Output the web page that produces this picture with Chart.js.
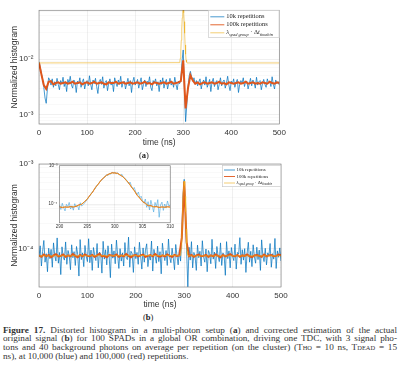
<!DOCTYPE html>
<html>
<head>
<meta charset="utf-8">
<script src="https://cdn.jsdelivr.net/npm/chart.js@4.4.1/dist/chart.umd.min.js"></script>
<style>
  html, body { margin: 0; padding: 0; background: #fff; }
  body { width: 400px; height: 378px; position: relative; overflow: hidden; }
  canvas { position: absolute; }
  #cA { left: 0; top: 0; }
  #cB { left: 0; top: 150px; }
  #cI { left: 40px; top: 160px; }
  .panel { position: absolute; font-family: "Liberation Serif", serif; font-size: 8.5px; color: #222; z-index: 5; }
  #cap { position: absolute; left: 3px; top: 325.5px; width: 394px; font-family: "Liberation Serif", serif;
         font-size: 9.2px; color: #333; z-index: 5; }
  #cap .ln { height: 8.7px; line-height: 8.7px; }
  #cap .j { text-align: justify; text-align-last: justify; }
  #cap .sc { font-size: 70%; }
</style>
</head>
<body>
<canvas id="cA" width="290" height="150"></canvas>
<canvas id="cB" width="292" height="160"></canvas>
<canvas id="cI" width="135" height="72"></canvas>
<div class="panel" style="left:139px;top:150px;">(<b>a</b>)</div>
<div class="panel" style="left:143px;top:312px;">(<b>b</b>)</div>
<div id="cap">
  <div class="ln j"><b>Figure 17.</b> Distorted histogram in a multi-photon setup (<b>a</b>) and corrected estimation of the actual</div>
  <div class="ln j">original signal (<b>b</b>) for 100 SPADs in a global OR combination, driving one TDC, with 3 signal pho-</div>
  <div class="ln j">tons and 40 background photons on average per repetition (on the cluster) (T<span class="sc">HO</span> = 10 ns, T<span class="sc">DEAD</span> = 15</div>
  <div class="ln">ns), at 10,000 (blue) and 100,000 (red) repetitions.</div>
</div>
<script>
// ---- data ----
// (a) distorted histogram, values in units of 1e-3
// 10k repetitions, one value every 2.5 ns from 0 to 500 ns
const blueA = [
  8.9, 7.2, 5.5, 4.3, 3.1, 2.0, 1.6, 2.9, 4.6, 4.2, 3.4, 4.4, 3.1, 3.9, 3.3, 4.5, 3.5, 2.8, 4.1, 3.6, 4.7,
  3.2, 3.9, 2.6, 4.3, 3.7, 4.9, 3.4, 3.0, 4.2, 3.8,
  2.5, 4.0, 3.6, 4.6, 3.1, 3.9, 4.4, 2.9, 3.7, 4.1,
  3.3, 5.0, 3.5, 2.8, 4.2, 3.6, 4.5, 3.2, 2.4, 3.9,
  4.3, 3.5, 4.8, 3.0, 3.8, 4.1, 2.7, 3.6, 4.4, 3.4,
  3.9, 2.6, 4.6, 3.7, 3.2, 4.2, 3.5, 4.9, 3.1, 3.8,
  4.0, 2.9, 3.6, 4.5, 3.3, 4.1, 2.5, 3.9, 4.7, 3.4,
  3.7, 4.3, 3.0, 3.8, 4.6, 2.8, 3.5, 4.2, 3.2, 4.0,
  3.6, 4.8, 3.1, 2.7, 4.1, 3.7, 4.4, 3.3, 3.9, 2.6,
  4.2, 3.5, 4.6, 3.0, 3.8, 4.3, 2.9, 3.6, 4.5, 3.4,
  3.9, 3.1, 4.7, 3.5, 2.8, 4.0, 3.6,
  4.2, 9.0, 14.5, 3.0, 0.75, 1.5, 3.2, 5.0, 6.0, 4.8, 4.0, 4.6, 3.5,
  4.1, 3.3, 3.9, 4.4, 2.9, 3.7, 4.2, 3.4, 4.8, 3.1,
  3.6, 4.3, 2.6, 3.9, 4.5, 3.2, 3.8, 4.1, 2.8, 3.5,
  4.6, 3.3, 3.9, 4.2, 3.0, 3.7, 4.9, 3.4, 2.7, 4.0,
  3.6, 4.4, 3.1, 3.8, 4.3, 2.5, 3.5, 4.1, 3.7, 4.6,
  3.2, 3.9, 4.0, 2.9, 3.6, 4.5, 3.3, 4.2, 3.8, 3.0,
  4.7, 3.4, 3.9, 4.1, 2.8, 3.6, 4.3, 3.5, 3.1, 4.4,
  3.7, 4.0, 3.2, 4.8, 3.5, 2.9, 4.2, 3.6, 3.9, 3.4
];
// 100k repetitions, one value every 5 ns
const redA = [
  8.6, 5.3, 3.4, 2.9, 3.9, 4.0, 3.5, 3.7, 3.8, 3.6, 3.7,
  3.8, 3.6, 3.7, 3.9, 3.6, 3.7, 3.8, 3.5, 3.7, 3.8,
  3.6, 3.7, 3.9, 3.6, 3.7, 3.8, 3.6, 3.5, 3.8, 3.7,
  3.7, 3.9, 3.6, 3.7, 3.8, 3.6, 3.7, 3.8, 3.6, 3.7,
  3.8, 3.6, 3.7, 3.9, 3.6, 3.7, 3.5, 3.8, 3.7, 3.6,
  3.7, 3.8, 3.6, 3.7, 3.9, 3.6, 3.7, 3.8,
  4.0, 9.5, 1.3, 3.0, 5.1, 4.1, 3.6, 3.8, 3.5, 3.7, 3.8, 3.6,
  3.7, 3.8, 3.6, 3.7, 3.9, 3.6, 3.7, 3.5, 3.8, 3.7,
  3.6, 3.7, 3.8, 3.6, 3.7, 3.9, 3.6, 3.7, 3.8, 3.6,
  3.7, 3.6, 3.8, 3.7, 3.6, 3.9, 3.7, 3.6, 3.8, 3.7
];
// lambda_spad group * dt_timebin
const yelTimes = [0, 292, 293, 294, 295, 296, 297, 298, 299, 300, 301, 302, 303, 304, 305, 306, 307, 308, 500];
const yelA = [8.5, 8.6, 9.0, 10.3, 13.9, 21.7, 34.5, 55, 74, 80, 68, 47, 29, 17.9, 12.2, 9.6, 8.8, 8.5, 8.5];

// (b) corrected estimate, values in units of 1e-5
const blueB = [
  8.1, 10.9, 6.3, 9.4, 12.6, 7.0, 8.8, 5.4, 10.2, 7.7, 9.9,
  6.1, 11.8, 8.4, 7.2, 13.5, 6.8, 9.1, 5.0, 10.6, 8.0,
  7.4, 12.1, 6.6, 9.6, 8.3, 5.7, 11.2, 7.9, 9.3, 6.4,
  10.7, 8.6, 4.8, 12.9, 7.5, 9.0, 6.2, 11.0, 8.2, 7.1,
  13.2, 6.9, 9.7, 5.6, 10.4, 8.5, 7.3, 11.6, 6.0, 9.2,
  8.7, 5.2, 12.3, 7.6, 9.8, 6.5, 10.9, 8.1, 4.6, 11.4,
  7.8, 9.5, 6.7, 12.7, 8.4, 5.9, 10.1, 7.2, 9.0, 6.3,
  11.9, 8.0, 7.5, 13.8, 6.1, 9.4, 8.8, 5.3, 10.6, 7.7,
  9.1, 6.6, 12.0, 8.3, 5.8, 10.3, 7.0, 9.7, 11.5, 6.2,
  8.5, 7.4, 12.4, 5.5, 9.9, 8.2, 6.8, 10.8, 7.1, 9.3,
  5.1, 11.7, 8.6, 7.3, 9.6, 6.4, 13.1, 8.0, 6.9, 10.2,
  7.8, 5.7, 11.3, 8.4, 6.5, 9.8, 7.2,
  14.0, 42, 66, 30, 9.5, 3.6, 10.5, 7.4, 12.2, 6.0, 9.1, 8.2, 5.6,
  11.1, 7.9, 9.4, 6.3, 12.5, 8.1, 7.0, 10.0, 5.4, 9.6,
  8.8, 6.7, 13.0, 7.6, 9.2, 5.9, 10.7, 8.3, 7.1, 11.8,
  6.4, 9.0, 8.5, 4.9, 12.2, 7.7, 9.5, 6.0, 10.4, 8.2,
  7.3, 11.4, 5.8, 9.1, 8.7, 13.6, 6.6, 9.8, 7.4, 10.1,
  5.3, 8.9, 12.0, 7.0, 9.4, 6.2, 11.2, 8.1, 6.8, 10.5,
  7.5, 9.7, 5.6, 12.8, 8.3, 7.1, 10.2, 6.5, 9.0, 8.4,
  11.6, 6.1, 8.8, 7.6, 13.3, 5.9, 9.5, 8.0, 10.3, 7.2
];
const redB = [
  8.4, 8.1, 8.6, 8.2, 8.5, 8.0, 8.4, 8.7, 8.2, 8.3, 8.6,
  8.1, 8.4, 8.2, 8.7, 8.3, 8.0, 8.5, 8.2, 8.6, 8.3,
  8.2, 8.5, 8.1, 8.4, 8.8, 8.2, 8.3, 8.0, 8.5, 8.4,
  8.3, 8.6, 8.1, 8.4, 8.2, 8.7, 8.3, 8.0, 8.4, 8.5,
  8.2, 8.4, 8.6, 8.1, 8.3, 8.5, 8.2, 8.7, 8.3, 8.1,
  8.4, 8.2, 8.6, 8.3, 8.1, 8.5, 8.3, 8.4,
  13.5, 62, 12.0, 8.2, 8.5, 8.1, 8.4, 8.6, 8.2, 8.3, 8.5, 8.1,
  8.4, 8.2, 8.6, 8.3, 8.0, 8.5, 8.2, 8.4, 8.7, 8.3,
  8.2, 8.5, 8.1, 8.4, 8.3, 8.6, 8.2, 8.0, 8.4, 8.5,
  8.3, 8.1, 8.6, 8.2, 8.4, 8.5, 8.2, 8.3, 8.6, 8.4
];
const yelB = [8.3, 8.4, 8.8, 10.0, 13.4, 20.7, 32.8, 47.6, 59.8, 63.1, 55.7, 41.7, 27.4, 17.2, 11.7, 9.3, 8.6, 8.3, 8.3];

// inset of (b), 290-310 ns, values in units of 1e-4
// 10k every 0.25 ns
const blueInset = [
  0.95, 0.72, 1.05, 0.80, 0.66, 0.98, 0.85, 1.10, 0.74, 0.90, 0.69, 1.02, 0.83, 0.93, 0.70, 1.08, 0.88, 0.96, 1.05, 1.18,
  1.30, 1.50, 1.62, 1.90, 2.15, 2.35, 2.60, 3.05, 3.30, 3.70, 4.05, 4.40, 4.95, 5.20, 5.80, 5.50, 6.30, 6.00, 6.80, 6.40,
  6.70, 6.20, 6.55, 5.90, 5.60, 6.00, 5.10, 4.70, 4.45, 3.90, 3.40, 3.75, 2.90, 2.45, 2.70, 2.10, 1.75, 2.05, 1.45, 1.60,
  1.20, 1.05, 1.35, 0.82, 1.15, 0.70, 1.25, 0.90, 0.62, 1.10, 0.85, 1.30, 0.45, 0.95, 1.12, 0.68, 1.00, 0.78, 1.20, 0.88, 0.95
];
// 100k and lambda every 0.5 ns
const redInset = [
  0.85, 0.80, 0.84, 0.82, 0.86, 0.83, 0.87, 0.95, 0.98, 1.15, 1.33, 1.70, 2.05, 2.72, 3.30, 4.18, 4.85, 5.65, 6.10, 6.55,
  6.45, 6.30, 5.65, 5.10, 4.22, 3.55, 2.76, 2.25, 1.70, 1.43, 1.15, 1.05, 0.90, 0.91, 0.84, 0.86, 0.81, 0.84, 0.82, 0.85, 0.83
];
const yelInset = [
  0.83, 0.83, 0.83, 0.83, 0.84, 0.85, 0.88, 0.92, 1.00, 1.13, 1.35, 1.66, 2.10, 2.67, 3.35, 4.12, 4.90, 5.60, 6.15, 6.46,
  6.50, 6.24, 5.73, 5.05, 4.28, 3.50, 2.80, 2.21, 1.74, 1.40, 1.17, 1.02, 0.93, 0.88, 0.85, 0.84, 0.83, 0.83, 0.83, 0.83, 0.83
];

const xTicksMain = [0, 100, 200, 300, 400, 500];
const xTicksInset = [290, 295, 300, 305, 310];
const legendLabels = ['10k repetitions', '100k repetitions'];

// time grids for the sampled series
const grid = (n, t0, dt) => Array.from({ length: n }, (_, i) => t0 + i * dt);
const tBlue = grid(blueA.length, 0, 2.5);
const tRed = grid(redA.length, 0, 5);
const tBlueIn = grid(blueInset.length, 290, 0.25);
const tRedIn = grid(redInset.length, 290, 0.5);

const pts = (xs, ys, k) => ys.map((v, i) => ({ x: xs[i], y: v * k }));

// ---- styling ----
const BLUE = 'rgba(0,114,189,0.8)';
const RED = '#E0561B';
const YEL = 'rgba(237,177,32,0.7)';
const SANS = '"Liberation Sans", Arial, sans-serif';
const SERIF = '"Liberation Serif", "Times New Roman", serif';
const GRID = 'rgba(0,0,0,0.10)';
const GRID_MINOR = 'rgba(0,0,0,0.045)';
const TXT = '#333';

function isDecade(v) {
  const l = Math.log10(v);
  return Math.abs(l - Math.round(l)) < 1e-6;
}
const SUP = { 2: '\u00B2', 3: '\u00B3', 4: '\u2074' };
function decadeLabel(v) {
  if (!isDecade(v)) return '';
  return '10\u207B' + SUP[-Math.round(Math.log10(v))];
}

// box round the plot, like matlab
const frame = {
  id: 'frame',
  afterDatasetsDraw(chart) {
    const { ctx, chartArea: a } = chart;
    ctx.save();
    ctx.strokeStyle = 'rgba(0,0,0,0.45)';
    ctx.lineWidth = 0.7;
    ctx.strokeRect(a.left, a.top, a.right - a.left, a.bottom - a.top);
    ctx.restore();
  }
};

// inset needs a white plot area
const whiteArea = {
  id: 'whiteArea',
  beforeDraw(chart) {
    const { ctx, chartArea: a } = chart;
    ctx.save();
    ctx.fillStyle = '#fff';
    ctx.fillRect(a.left, a.top, a.right - a.left, a.bottom - a.top);
    ctx.restore();
  }
};

function drawLambda(ctx, x, y, fs) {
  const parts = [['\u03BB', 0, 'italic '], ['spad group', 1, 'italic '], [' \u00B7 \u0394', 0, ''], ['t', 0, 'italic '], ['timebin', 1, 'italic ']];
  parts.forEach(([s, sub, st]) => {
    const size = sub ? fs * 0.68 : fs;
    ctx.font = `${st}${size}px ${SERIF}`;
    ctx.fillText(s, x, y + (sub ? fs * 0.28 : 0));
    x += ctx.measureText(s).width;
  });
}

function legendBox(o) {
  return {
    id: 'legendBox',
    afterDatasetsDraw(chart) {
      const { ctx, chartArea: a } = chart;
      const x0 = a.right - o.w, y0 = a.top + o.dy;
      ctx.save();
      ctx.fillStyle = '#fff';
      ctx.fillRect(x0, y0, o.w, o.h);
      ctx.strokeStyle = '#c4c4c4';
      ctx.lineWidth = 0.6;
      ctx.strokeRect(x0 + 0.3, y0 + 0.3, o.w - 0.6, o.h - 0.6);
      ctx.textBaseline = 'middle';
      chart.data.datasets.forEach((ds, i) => {
        const y = y0 + o.rows[i];
        ctx.strokeStyle = ds.borderColor;
        ctx.lineWidth = 0.9;
        ctx.beginPath();
        ctx.moveTo(x0 + o.lx[0], y);
        ctx.lineTo(x0 + o.lx[1], y);
        ctx.stroke();
        ctx.fillStyle = '#222';
        if (i < legendLabels.length) {
          ctx.font = `${o.fs}px ${SERIF}`;
          ctx.fillText(legendLabels[i], x0 + o.tx, y);
        } else {
          drawLambda(ctx, x0 + o.tx, y, o.fs);
        }
      });
      ctx.restore();
    }
  };
}

function scalesFor(o) {
  return {
    x: {
      type: 'linear', min: o.xmin, max: o.xmax,
      afterBuildTicks: s => { s.ticks = o.xticks.map(v => ({ value: v })); },
      ticks: { padding: o.xpad, color: TXT, font: { family: SANS, size: o.fs }, maxRotation: 0 },
      grid: { color: GRID, drawTicks: false, lineWidth: 0.6 },
      border: { display: false },
      title: o.xtitle ? { display: true, text: o.xtitle, color: TXT, font: { family: SANS, size: 8.5 },
                          padding: { top: 0, bottom: o.xtitlePad } } : { display: false },
      afterFit: s => { s.height = o.xh; }
    },
    y: {
      type: 'logarithmic', min: o.ymin, max: o.ymax,
      ticks: { callback: decadeLabel, autoSkip: false, padding: o.ypad, color: TXT, font: { family: SANS, size: o.fs } },
      grid: { color: c => (c.tick && isDecade(c.tick.value)) ? GRID : GRID_MINOR, drawTicks: false, lineWidth: 0.6 },
      border: { display: false },
      title: o.ytitle ? { display: true, text: o.ytitle, color: TXT, font: { family: SANS, size: 8.5 },
                          padding: { top: 10, bottom: 0 } } : { display: false },
      afterFit: s => { s.width = o.yw; }
    }
  };
}

const common = {
  animation: false,
  responsive: false,
  events: [],
  elements: { point: { radius: 0 }, line: { tension: 0 } },
};

// (a)
new Chart(document.getElementById('cA'), {
  type: 'line',
  data: { datasets: [
    { data: pts(tBlue, blueA, 1e-3), borderColor: BLUE, borderWidth: 0.9, order: 3 },
    { data: pts(tRed, redA, 1e-3), borderColor: RED, borderWidth: 2, order: 2 },
    { data: pts(yelTimes, yelA, 1e-3), borderColor: YEL, borderWidth: 0.9, order: 1 }
  ] },
  options: Object.assign({}, common, {
    layout: { padding: { top: 3, right: 10.5, left: 0, bottom: 0 } },
    plugins: { legend: { display: false }, tooltip: { enabled: false } },
    scales: scalesFor({ xmin: 0, xmax: 500, xticks: xTicksMain, ymin: 6.8e-4, ymax: 0.075, fs: 8,
      xpad: 4, ypad: 5.5, xh: 26, yw: 39, xtitle: 'time (ns)', xtitlePad: 2, ytitle: 'Normalized histogram' })
  }),
  plugins: [frame, legendBox({ w: 71, h: 27.5, dy: 0, rows: [6.5, 14.5, 22.5], lx: [2, 16], tx: 18, fs: 6.4 })]
});

// (b)
new Chart(document.getElementById('cB'), {
  type: 'line',
  data: { datasets: [
    { data: pts(tBlue, blueB, 1e-5), borderColor: BLUE, borderWidth: 0.9, order: 3 },
    { data: pts(tRed, redB, 1e-5), borderColor: RED, borderWidth: 2, order: 2 },
    { data: pts(yelTimes, yelB, 1e-5), borderColor: YEL, borderWidth: 0.9, order: 1 }
  ] },
  options: Object.assign({}, common, {
    layout: { padding: { top: 14, right: 11, left: 0, bottom: 0 } },
    plugins: { legend: { display: false }, tooltip: { enabled: false } },
    scales: scalesFor({ xmin: 0, xmax: 500, xticks: xTicksMain, ymin: 3.57e-5, ymax: 1e-3, fs: 8,
      xpad: 4, ypad: 5.5, xh: 23, yw: 39, xtitle: 'time (ns)', xtitlePad: 0, ytitle: 'Normalized histogram' })
  }),
  plugins: [frame, legendBox({ w: 59, h: 22, dy: 1, rows: [5, 11.5, 18], lx: [2, 13], tx: 14.5, fs: 4.9 })]
});

// inset of (b)
new Chart(document.getElementById('cI'), {
  type: 'line',
  data: { datasets: [
    { data: pts(tBlueIn, blueInset, 1e-4), borderColor: 'rgba(60,160,220,0.8)', borderWidth: 0.7, order: 3 },
    { data: pts(tRedIn, redInset, 1e-4), borderColor: RED, borderWidth: 1, order: 2 },
    { data: pts(tRedIn, yelInset, 1e-4), borderColor: YEL, borderWidth: 0.9, order: 1 }
  ] },
  options: Object.assign({}, common, {
    layout: { padding: { top: 5.7, right: 4.3, left: 0, bottom: 0 } },
    plugins: { legend: { display: false }, tooltip: { enabled: false } },
    scales: scalesFor({ xmin: 290, xmax: 310, xticks: xTicksInset, ymin: 3.25e-5, ymax: 1e-3, fs: 4.5,
      xpad: 1, ypad: 2, xh: 9.3, yw: 19.5 })
  }),
  plugins: [whiteArea, frame]
});
</script>
</body>
</html>
